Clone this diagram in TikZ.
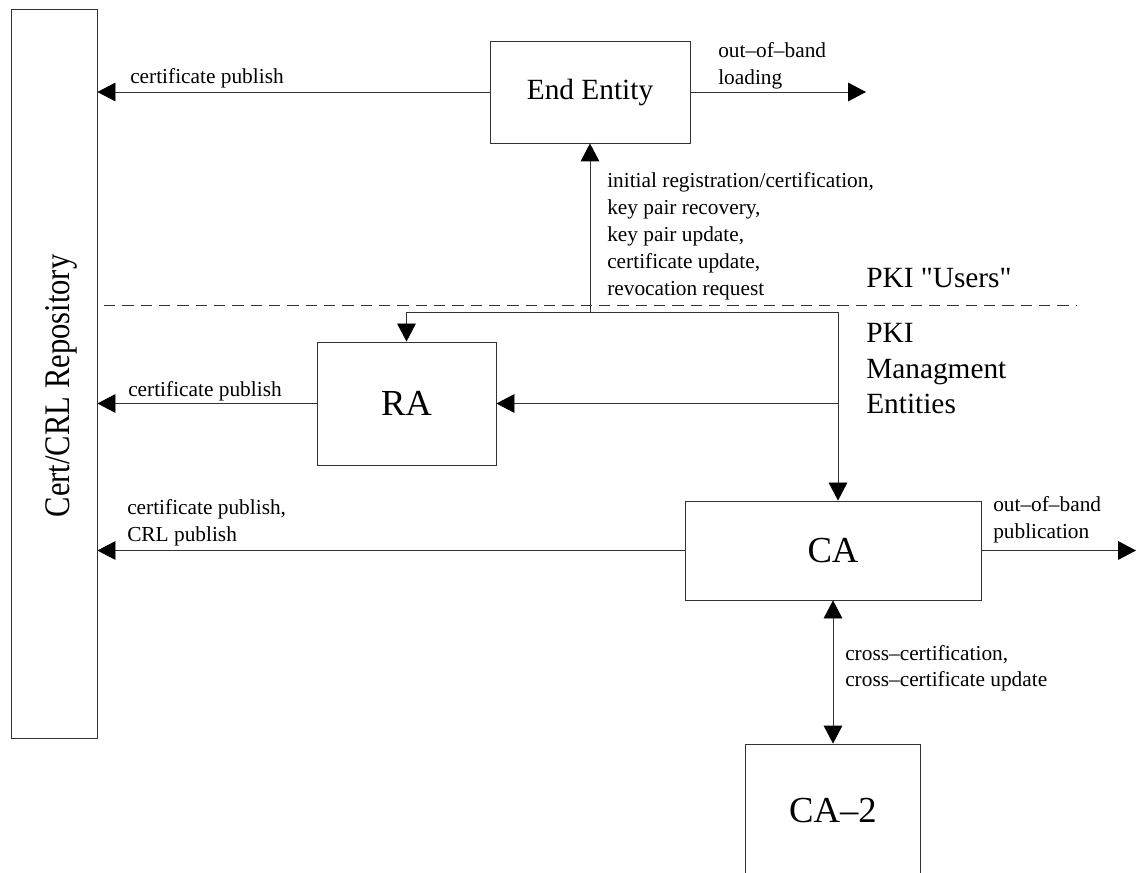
\documentclass[tikz,border=0pt]{standalone}
\usepackage{fontspec}
\setmainfont{Liberation Serif}[Ligatures=TeXOff]
\usepackage{graphicx}
\usetikzlibrary{arrows.meta}
% left-aligned multi-line label whose baseline is that of its first line
\newcommand\mlines[1]{\begin{tabular}[t]{@{}l@{}}#1\end{tabular}}

\begin{document}
\begin{tikzpicture}[x=0.75pt,y=-0.75pt,
  box/.style={draw=black!80, line width=0.65pt, rectangle, inner sep=0pt,
              font=\fontsize{27.5}{33}\selectfont},
  flow/.style={draw=black!80, line width=0.65pt, -{Triangle[length=13.5pt,width=14pt,color=black]}},
  both/.style={draw=black!80, line width=0.65pt,
               {Triangle[length=13.5pt,width=14pt,color=black]}-{Triangle[length=13.5pt,width=14pt,color=black]}},
  note/.style={inner sep=0pt, anchor=base west, font=\fontsize{16}{20.2}\selectfont},
  zone/.style={inner sep=0pt, anchor=base west, font=\fontsize{22}{26.3}\selectfont},
  divider/.style={draw=black!80, line width=0.65pt, dash pattern=on 8.5pt off 5.25pt},
]
\useasboundingbox (0,0) rectangle (1136,873);
\clip (0,0) rectangle (1136,873);

% entities
\node[box, minimum width=64.5pt, minimum height=546.75pt] (repo) at (54,373.5) {};
\node[rotate=90, anchor=base, inner sep=0pt, font=\fontsize{27}{32}\selectfont]
  (repotext) at (69,386) {\scalebox{0.85}[1]{Cert/CRL Repository}};
\node[box, font=\fontsize{22}{26}\selectfont, minimum width=150pt, minimum height=76.5pt]
  (ee) at (590,92) {End Entity};
\node[box, minimum width=134.25pt, minimum height=92.25pt] (ra) at (406.5,403.5) {RA};
\node[box, minimum width=222pt, minimum height=74.25pt] (ca) at (833,550.5) {CA};
\node[box, minimum width=131.25pt, minimum height=100.5pt] (ca2) at (833,811) {CA–2};

% free ends and branch points
\coordinate (eeout) at (866,92);
\coordinate (hub) at (590,312);
\coordinate (split) at (838,312);
\coordinate (caout) at (1136,550.5);
\coordinate (dashL) at (104,305);
\coordinate (dashR) at (1077,305);

% boundary between users and management entities
\draw[divider] (dashL) -- (dashR);

% connectors
\draw[flow] (ee.west) -- (ee.west -| repo.east);
\draw[flow] (ee.east) -- (eeout);
\draw[flow] (hub) -- (ee.south);
\draw[flow] (split) -- (split -| ra.north) -- (ra.north);
\draw[flow] (split) -- (split |- ca.north);
\draw[flow] (split |- ra.east) -- (ra.east);
\draw[flow] (ra.west) -- (ra.west -| repo.east);
\draw[flow] (ca.west) -- (ca.west -| repo.east);
\draw[flow] (ca.east) -- (caout);
\draw[both] (ca.south -| ca2.north) -- (ca2.north);

% labels
\node[note] (l1) at (130,84) {certificate publish};
\node[note] (l2) at (718,58) {\mlines{out–of–band\\loading}};
\node[note] (l3) at (607,188) {\mlines{initial registration/certification,\\key pair recovery,\\key pair update,\\certificate update,\\revocation request}};
\node[zone] (z1) at (866,288) {PKI "Users"};
\node[zone] (z2) at (866,343) {\mlines{PKI\\Managment\\Entities}};
\node[note] (l4) at (128,397) {certificate publish};
\node[note] (l5) at (127,515) {\mlines{certificate publish,\\CRL publish}};
\node[note] (l6) at (993,512) {\mlines{out–of–band\\publication}};
\node[note] (l7) at (845,660) {\mlines{cross–certification,\\cross–certificate update}};
\end{tikzpicture}
\end{document}
